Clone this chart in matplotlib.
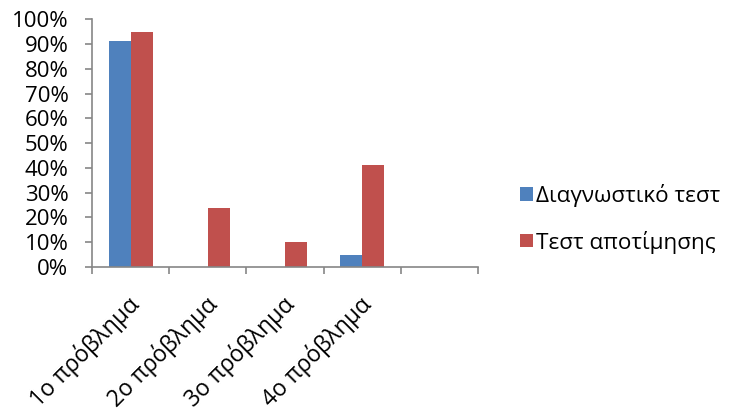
import numpy as np
import matplotlib.pyplot as plt
from matplotlib.ticker import PercentFormatter

plt.rcParams['font.family'] = ['Open Sans', 'DejaVu Sans']

categories = ['1ο πρόβλημα', '2ο πρόβλημα', '3ο πρόβλημα', '4ο πρόβλημα', '']
diagnostic = [91, 0, 0, 5, 0]
assessment = [95, 24, 10, 41, 0]
series_names = ['Διαγνωστικό τεστ', 'Τεστ αποτίμησης']

fig = plt.figure(figsize=(7.33, 4.16), dpi=100)
ax = fig.add_axes([0.1255, 0.358, 0.5265, 0.596])

x = np.arange(len(categories))
w = 0.286
ax.bar(x - w / 2, diagnostic, w, color='#4F81BD', label=series_names[0])
ax.bar(x + w / 2, assessment, w, color='#C0504D', label=series_names[1])

ax.set_xlim(-0.5, len(categories) - 0.5)
ax.set_ylim(0, 100)
ax.set_yticks(np.arange(0, 101, 10))
ax.yaxis.set_major_formatter(PercentFormatter(decimals=0))

# tick marks sit between categories, labels at the centres
ax.set_xticks(np.arange(-0.5, len(categories), 1))
ax.set_xticklabels([])
for xi, lab in zip(x, categories):
    ax.annotate(lab, xy=(xi, 0), xycoords=('data', 'axes fraction'),
                xytext=(4, -24), textcoords='offset points',
                rotation=45, rotation_mode='anchor', ha='right', va='center',
                fontsize=16.5, color='black')

for s in ['top', 'right']:
    ax.spines[s].set_visible(False)
for s in ['left', 'bottom']:
    ax.spines[s].set_color('#868686')
    ax.spines[s].set_linewidth(1.2)
ax.tick_params(axis='both', colors='#868686', length=5, width=1.2)
ax.tick_params(axis='y', labelcolor='black', labelsize=16, pad=12)

fig.legend(loc='center left', bbox_to_anchor=(0.682, 0.474), frameon=False,
           fontsize=16.2, handlelength=0.55, handleheight=0.55, handletextpad=0.15,
           labelspacing=1.05)

fig.savefig('out.png', dpi=100)
